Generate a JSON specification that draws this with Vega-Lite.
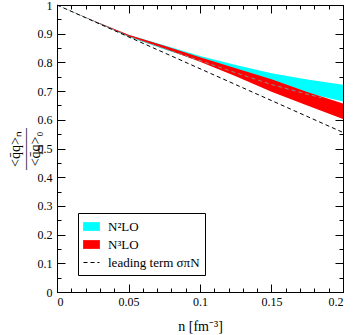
{
  "$schema": "https://vega.github.io/schema/vega-lite/v6.json",
  "width": 286,
  "height": 287,
  "autosize": {"type": "none"},
  "padding": {"left": 57, "top": 5, "right": 10, "bottom": 43},
  "background": "white",
  "config": {
    "view": {"stroke": "black", "strokeWidth": 1},
    "axis": {"grid": false, "domainColor": "black", "tickColor": "black", "labelColor": "black", "titleColor": "black", "labelFont": "Liberation Serif", "titleFont": "Liberation Serif", "labelFontSize": 12, "titleFontWeight": "normal", "domainWidth": 1, "tickWidth": 1},
    "legend": {"strokeColor": "black", "fillColor": "white", "padding": 5, "cornerRadius": 0, "labelFont": "Liberation Serif", "labelFontSize": 13, "labelColor": "black", "rowPadding": 2, "labelOffset": 8, "labelLimit": 0, "symbolSize": 256}
  },
  "datasets": {
    "bands": [
      {"n": 0, "series": "N²LO", "lo": 1, "hi": 1},
      {"n": 0.025, "series": "N²LO", "lo": 0.944, "hi": 0.947},
      {"n": 0.05, "series": "N²LO", "lo": 0.889, "hi": 0.896},
      {"n": 0.075, "series": "N²LO", "lo": 0.846, "hi": 0.860},
      {"n": 0.1, "series": "N²LO", "lo": 0.805, "hi": 0.822},
      {"n": 0.125, "series": "N²LO", "lo": 0.765, "hi": 0.791},
      {"n": 0.15, "series": "N²LO", "lo": 0.726, "hi": 0.762},
      {"n": 0.175, "series": "N²LO", "lo": 0.693, "hi": 0.740},
      {"n": 0.2, "series": "N²LO", "lo": 0.664, "hi": 0.722},
      {"n": 0, "series": "N³LO", "lo": 1, "hi": 1},
      {"n": 0.025, "series": "N³LO", "lo": 0.945, "hi": 0.947},
      {"n": 0.05, "series": "N³LO", "lo": 0.891, "hi": 0.896},
      {"n": 0.075, "series": "N³LO", "lo": 0.848, "hi": 0.858},
      {"n": 0.1, "series": "N³LO", "lo": 0.802, "hi": 0.818},
      {"n": 0.125, "series": "N³LO", "lo": 0.752, "hi": 0.780},
      {"n": 0.15, "series": "N³LO", "lo": 0.698, "hi": 0.741},
      {"n": 0.175, "series": "N³LO", "lo": 0.650, "hi": 0.697},
      {"n": 0.2, "series": "N³LO", "lo": 0.603, "hi": 0.657}
    ],
    "lead": [
      {"n": 0, "series": "leading term σπN", "v": 1},
      {"n": 0.1, "series": "leading term σπN", "v": 0.778},
      {"n": 0.2, "series": "leading term σπN", "v": 0.556}
    ],
    "grey": [
      {"n": 0.03, "v": 0.935},
      {"n": 0.05, "v": 0.891},
      {"n": 0.075, "v": 0.848},
      {"n": 0.1, "v": 0.806},
      {"n": 0.125, "v": 0.764},
      {"n": 0.15, "v": 0.723},
      {"n": 0.175, "v": 0.689},
      {"n": 0.185, "v": 0.677}
    ]
  },
  "resolve": {"axis": {"x": "independent", "y": "independent"}},
  "layer": [
    {
      "data": {"name": "bands"},
      "transform": [{"filter": "datum.series === 'N²LO'"}],
      "mark": {"type": "area", "opacity": 1},
      "encoding": {
        "x": {"field": "n", "type": "quantitative", "scale": {"domain": [0, 0.2], "nice": false, "zero": false},
              "axis": {"orient": "bottom", "values": [0, 0.05, 0.1, 0.15, 0.2], "tickSize": -8, "labelPadding": 12, "labelExpr": "'' + datum.value", "title": "n [fm⁻³]", "titleFontSize": 14, "titlePadding": 12}},
        "y": {"field": "lo", "type": "quantitative", "scale": {"domain": [0, 1], "nice": false, "zero": false},
              "axis": {"orient": "left", "values": [0, 0.1, 0.2, 0.3, 0.4, 0.5, 0.6, 0.7, 0.8, 0.9, 1], "tickSize": -8, "labelPadding": 13, "labelExpr": "'' + datum.value", "title": ["<q̄q>ₙ", "———", "<q̄q>₀"], "titleFontSize": 14, "titleLineHeight": 10, "titlePadding": -5}},
        "y2": {"field": "hi"},
        "color": {"field": "series", "type": "nominal",
                  "scale": {"domain": ["N²LO", "N³LO", "leading term σπN"], "range": ["#00ffff", "#ff0000", "#000000"]},
                  "legend": {"orient": "none", "legendX": 21, "legendY": 208, "title": null,
                             "encode": {"symbols": {"update": {
                               "shape": {"signal": "datum.value === 'leading term σπN' ? 'M-1,0H1' : 'M-1,-0.5H1V0.5H-1Z'"},
                               "size": {"value": 256},
                               "fill": {"signal": "datum.value === 'N²LO' ? '#00ffff' : datum.value === 'N³LO' ? '#ff0000' : 'transparent'"},
                               "stroke": {"signal": "datum.value === 'leading term σπN' ? '#000000' : 'transparent'"},
                               "strokeDash": {"signal": "datum.value === 'leading term σπN' ? [4, 3] : [1, 0]"},
                               "strokeWidth": {"value": 1},
                               "opacity": {"value": 1},
                               "fillOpacity": {"value": 1}
                             }}}}}
      }
    },
    {
      "data": {"name": "bands"},
      "transform": [{"filter": "datum.series === 'N³LO'"}],
      "mark": {"type": "area", "opacity": 1},
      "encoding": {
        "x": {"field": "n", "type": "quantitative",
              "axis": {"orient": "bottom", "values": [0.01, 0.02, 0.03, 0.04, 0.06, 0.07, 0.08, 0.09, 0.11, 0.12, 0.13, 0.14, 0.16, 0.17, 0.18, 0.19], "tickSize": -4, "labels": false, "domain": false, "title": null}},
        "y": {"field": "lo", "type": "quantitative",
              "axis": {"orient": "left", "values": [0.05, 0.15, 0.25, 0.35, 0.45, 0.55, 0.65, 0.75, 0.85, 0.95], "tickSize": -4, "labels": false, "domain": false, "title": null}},
        "y2": {"field": "hi"},
        "color": {"field": "series", "type": "nominal",
                  "legend": {"orient": "none", "legendX": 21, "legendY": 208, "title": null,
                             "encode": {"symbols": {"update": {
                               "shape": {"signal": "datum.value === 'leading term σπN' ? 'M-1,0H1' : 'M-1,-0.5H1V0.5H-1Z'"},
                               "size": {"value": 256},
                               "fill": {"signal": "datum.value === 'N²LO' ? '#00ffff' : datum.value === 'N³LO' ? '#ff0000' : 'transparent'"},
                               "stroke": {"signal": "datum.value === 'leading term σπN' ? '#000000' : 'transparent'"},
                               "strokeDash": {"signal": "datum.value === 'leading term σπN' ? [4, 3] : [1, 0]"},
                               "strokeWidth": {"value": 1},
                               "opacity": {"value": 1},
                               "fillOpacity": {"value": 1}
                             }}}}}
      }
    },
    {
      "data": {"name": "grey"},
      "mark": {"type": "line", "color": "#8a8a8a", "strokeWidth": 1, "strokeDash": [4, 3]},
      "encoding": {
        "x": {"field": "n", "type": "quantitative",
              "axis": {"orient": "top", "values": [0, 0.05, 0.1, 0.15, 0.2], "tickSize": -8, "labels": false, "title": null}},
        "y": {"field": "v", "type": "quantitative",
              "axis": {"orient": "right", "values": [0, 0.1, 0.2, 0.3, 0.4, 0.5, 0.6, 0.7, 0.8, 0.9, 1], "tickSize": -8, "labels": false, "title": null}}
      }
    },
    {
      "data": {"name": "lead"},
      "mark": {"type": "line", "strokeWidth": 1, "strokeDash": [4, 3]},
      "encoding": {
        "x": {"field": "n", "type": "quantitative",
              "axis": {"orient": "top", "values": [0.01, 0.02, 0.03, 0.04, 0.06, 0.07, 0.08, 0.09, 0.11, 0.12, 0.13, 0.14, 0.16, 0.17, 0.18, 0.19], "tickSize": -4, "labels": false, "domain": false, "title": null}},
        "y": {"field": "v", "type": "quantitative",
              "axis": {"orient": "right", "values": [0.05, 0.15, 0.25, 0.35, 0.45, 0.55, 0.65, 0.75, 0.85, 0.95], "tickSize": -4, "labels": false, "domain": false, "title": null}},
        "color": {"field": "series", "type": "nominal",
                  "legend": {"orient": "none", "legendX": 21, "legendY": 208, "title": null,
                             "encode": {"symbols": {"update": {
                               "shape": {"signal": "datum.value === 'leading term σπN' ? 'M-1,0H1' : 'M-1,-0.5H1V0.5H-1Z'"},
                               "size": {"value": 256},
                               "fill": {"signal": "datum.value === 'N²LO' ? '#00ffff' : datum.value === 'N³LO' ? '#ff0000' : 'transparent'"},
                               "stroke": {"signal": "datum.value === 'leading term σπN' ? '#000000' : 'transparent'"},
                               "strokeDash": {"signal": "datum.value === 'leading term σπN' ? [4, 3] : [1, 0]"},
                               "strokeWidth": {"value": 1},
                               "opacity": {"value": 1},
                               "fillOpacity": {"value": 1}
                             }}}}}
      }
    }
  ]
}
